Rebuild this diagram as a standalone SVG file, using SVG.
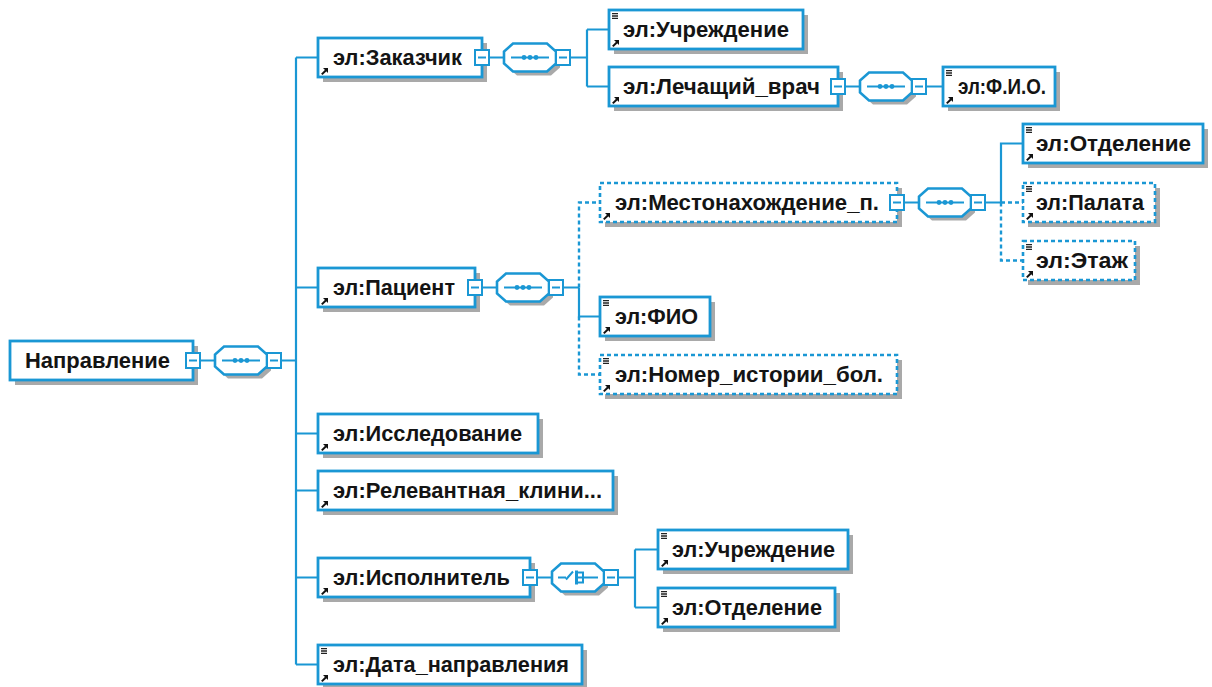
<svg xmlns="http://www.w3.org/2000/svg" width="1212" height="687" viewBox="0 0 1212 687">
<style>
.box{fill:#fff;stroke:#1a97d4;stroke-width:2.8}
.dbox{fill:#fff;stroke:#1a97d4;stroke-width:2.6;stroke-dasharray:4 3}
.sh{fill:#a9a9a9}
.t{font-family:"Liberation Sans",Arial,sans-serif;font-weight:bold;font-size:22px;fill:#141414}
.c{stroke:#1a97d4;stroke-width:2.2;fill:none}
.cd{stroke:#1a97d4;stroke-width:2.4;fill:none;stroke-dasharray:4 3}
.sq{fill:#fff;stroke:#1a97d4;stroke-width:2}
.oct{fill:#fff;stroke:#1a97d4;stroke-width:2.6}
.in{stroke:#1a97d4;stroke-width:2;fill:none}
</style>
<defs>
<g id="eq"><path d="M0,0.6h6M0,3h6M0,5.4h6" stroke="#222" stroke-width="1.3"/></g>
<g id="ar"><path d="M0.8,6.4L5,2.2" stroke="#111" stroke-width="2"/><path d="M2,0H7V5Z" fill="#111"/></g>
<g id="sqi"><rect class="sq" x="0" y="-7.5" width="14" height="15"/><path class="in" d="M3,0H11"/></g>
<g id="octs"><path class="sh" d="M13,-10H47L56,-2V10L47,18H13L4,10V-2Z"/><path class="oct" d="M9,-14H43L52,-6V6L43,14H9L0,6V-6Z"/></g>
<g id="seq"><use href="#octs"/><path class="in" d="M7,0H45"/><circle cx="20" cy="0" r="2.4" fill="#1a97d4"/><circle cx="26" cy="0" r="2.4" fill="#1a97d4"/><circle cx="32" cy="0" r="2.4" fill="#1a97d4"/></g>
<g id="cho"><use href="#octs"/><path class="in" d="M6,0H14M14,2L21,-6"/><rect x="23" y="-7" width="3" height="14" fill="#1a97d4"/><path class="in" d="M26,-5H31V5H26M26,0H46"/></g>
</defs>

<g id="connectors">
<path class="c" d="M200,360.5H215M281,360.5H296"/>
<path class="c" d="M296,57.5V664.5M296,57.5H318M296,287.5H318M296,433.5H318M296,490.5H318M296,577.5H318M296,664.5H318"/>
<path class="c" d="M489,57.5H504M570,57.5H587M587,29.5V86.5M587,29.5H609M587,86.5H609"/>
<path class="c" d="M845,86.5H860M926,86.5H943"/>
<path class="c" d="M482,287.5H497M563,287.5H579M579,287.5V316.5H600"/>
<path class="cd" d="M579,287.5V202.5H600M579,316.5V374.5H600"/>
<path class="c" d="M904,202.5H919M985,202.5H1001M1001,202.5V143.5H1023"/>
<path class="cd" d="M1001,202.5H1023M1001,202.5V260.5H1023"/>
<path class="c" d="M537,577.5H552M618,577.5H635M635,549.5V607.5M635,549.5H658M635,607.5H658"/>
</g>

<g id="n-napravlenie">
<rect class="sh" x="15" y="346" width="183" height="39"/>
<rect class="box" x="10" y="341" width="183" height="39"/>
<text class="t" x="25" y="368" textLength="145" lengthAdjust="spacingAndGlyphs">Направление</text>
<use href="#sqi" x="186" y="360.5"/>
</g>
<g id="seq-napravlenie"><use href="#seq" x="215" y="360.5"/><use href="#sqi" x="267" y="360.5"/></g>

<g id="n-zakazchik">
<rect class="sh" x="323" y="43" width="164" height="39"/>
<rect class="box" x="318" y="38" width="164" height="39"/>
<use href="#ar" x="321" y="68"/>
<text class="t" x="333" y="65" textLength="129" lengthAdjust="spacingAndGlyphs">эл:Заказчик</text>
<use href="#sqi" x="475" y="57.5"/>
</g>
<g id="seq-zakazchik"><use href="#seq" x="504" y="57.5"/><use href="#sqi" x="556" y="57.5"/></g>

<g id="n-uchrezhdenie1">
<rect class="sh" x="614" y="15" width="194" height="39"/>
<rect class="box" x="609" y="10" width="194" height="39"/>
<use href="#eq" x="612" y="13"/><use href="#ar" x="612" y="40"/>
<text class="t" x="623" y="37" textLength="166" lengthAdjust="spacingAndGlyphs">эл:Учреждение</text>
</g>

<g id="n-lechvrach">
<rect class="sh" x="614" y="72" width="229" height="39"/>
<rect class="box" x="609" y="67" width="229" height="39"/>
<use href="#ar" x="612" y="97"/>
<text class="t" x="623" y="94" textLength="197" lengthAdjust="spacingAndGlyphs">эл:Лечащий_врач</text>
<use href="#sqi" x="831" y="86.5"/>
</g>
<g id="seq-lechvrach"><use href="#seq" x="860" y="86.5"/><use href="#sqi" x="912" y="86.5"/></g>

<g id="n-fio1">
<rect class="sh" x="948" y="72" width="112" height="39"/>
<rect class="box" x="943" y="67" width="112" height="39"/>
<use href="#eq" x="946" y="70"/><use href="#ar" x="946" y="97"/>
<text class="t" x="958" y="94" textLength="88" lengthAdjust="spacingAndGlyphs">эл:Ф.И.О.</text>
</g>

<g id="n-otdelenie1">
<rect class="sh" x="1028" y="129" width="180" height="39"/>
<rect class="box" x="1023" y="124" width="180" height="39"/>
<use href="#eq" x="1026" y="127"/><use href="#ar" x="1026" y="154"/>
<text class="t" x="1036" y="151" textLength="155" lengthAdjust="spacingAndGlyphs">эл:Отделение</text>
</g>

<g id="n-mesto">
<rect class="sh" x="605" y="188" width="297" height="39"/>
<rect class="dbox" x="600" y="183" width="297" height="39"/>
<use href="#ar" x="603" y="213"/>
<text class="t" x="615" y="210" textLength="264" lengthAdjust="spacingAndGlyphs">эл:Местонахождение_п.</text>
<use href="#sqi" x="890" y="202.5"/>
</g>
<g id="seq-mesto"><use href="#seq" x="919" y="202.5"/><use href="#sqi" x="971" y="202.5"/></g>

<g id="n-palata">
<rect class="sh" x="1028" y="188" width="132" height="39"/>
<rect class="dbox" x="1023" y="183" width="132" height="39"/>
<use href="#eq" x="1026" y="186"/><use href="#ar" x="1026" y="213"/>
<text class="t" x="1036" y="210" textLength="108" lengthAdjust="spacingAndGlyphs">эл:Палата</text>
</g>

<g id="n-etazh">
<rect class="sh" x="1028" y="246" width="112" height="39"/>
<rect class="dbox" x="1023" y="241" width="112" height="39"/>
<use href="#eq" x="1026" y="244"/><use href="#ar" x="1026" y="271"/>
<text class="t" x="1036" y="268" textLength="92" lengthAdjust="spacingAndGlyphs">эл:Этаж</text>
</g>

<g id="n-pacient">
<rect class="sh" x="323" y="273" width="157" height="39"/>
<rect class="box" x="318" y="268" width="157" height="39"/>
<use href="#ar" x="321" y="298"/>
<text class="t" x="333" y="295" textLength="122" lengthAdjust="spacingAndGlyphs">эл:Пациент</text>
<use href="#sqi" x="468" y="287.5"/>
</g>
<g id="seq-pacient"><use href="#seq" x="497" y="287.5"/><use href="#sqi" x="549" y="287.5"/></g>

<g id="n-fio2">
<rect class="sh" x="605" y="302" width="110" height="39"/>
<rect class="box" x="600" y="297" width="110" height="39"/>
<use href="#eq" x="603" y="300"/><use href="#ar" x="603" y="327"/>
<text class="t" x="615" y="324" textLength="83" lengthAdjust="spacingAndGlyphs">эл:ФИО</text>
</g>

<g id="n-nomer">
<rect class="sh" x="605" y="360" width="297" height="39"/>
<rect class="dbox" x="600" y="355" width="297" height="39"/>
<use href="#eq" x="603" y="358"/><use href="#ar" x="603" y="385"/>
<text class="t" x="615" y="382" textLength="268" lengthAdjust="spacingAndGlyphs">эл:Номер_истории_бол.</text>
</g>

<g id="n-issledovanie">
<rect class="sh" x="323" y="419" width="220" height="39"/>
<rect class="box" x="318" y="414" width="220" height="39"/>
<use href="#ar" x="321" y="444"/>
<text class="t" x="333" y="441" textLength="189" lengthAdjust="spacingAndGlyphs">эл:Исследование</text>
</g>

<g id="n-relevant">
<rect class="sh" x="323" y="476" width="295" height="39"/>
<rect class="box" x="318" y="471" width="295" height="39"/>
<use href="#ar" x="321" y="501"/>
<text class="t" x="333" y="498" textLength="269" lengthAdjust="spacingAndGlyphs">эл:Релевантная_клини...</text>
</g>

<g id="n-ispolnitel">
<rect class="sh" x="323" y="563" width="212" height="39"/>
<rect class="box" x="318" y="558" width="212" height="39"/>
<use href="#ar" x="321" y="588"/>
<text class="t" x="333" y="585" textLength="177" lengthAdjust="spacingAndGlyphs">эл:Исполнитель</text>
<use href="#sqi" x="523" y="577.5"/>
</g>
<g id="choice-ispolnitel"><use href="#cho" x="552" y="577.5"/><use href="#sqi" x="604" y="577.5"/></g>

<g id="n-uchrezhdenie2">
<rect class="sh" x="663" y="535" width="190" height="39"/>
<rect class="box" x="658" y="530" width="190" height="39"/>
<use href="#eq" x="661" y="533"/><use href="#ar" x="661" y="560"/>
<text class="t" x="672" y="557" textLength="163" lengthAdjust="spacingAndGlyphs">эл:Учреждение</text>
</g>

<g id="n-otdelenie2">
<rect class="sh" x="663" y="593" width="177" height="39"/>
<rect class="box" x="658" y="588" width="177" height="39"/>
<use href="#eq" x="661" y="591"/><use href="#ar" x="661" y="618"/>
<text class="t" x="672" y="615" textLength="150" lengthAdjust="spacingAndGlyphs">эл:Отделение</text>
</g>

<g id="n-data">
<rect class="sh" x="323" y="650" width="264" height="37"/>
<rect class="box" x="318" y="645" width="264" height="39"/>
<use href="#eq" x="321" y="648"/><use href="#ar" x="321" y="675"/>
<text class="t" x="333" y="672" textLength="236" lengthAdjust="spacingAndGlyphs">эл:Дата_направления</text>
</g>
</svg>
